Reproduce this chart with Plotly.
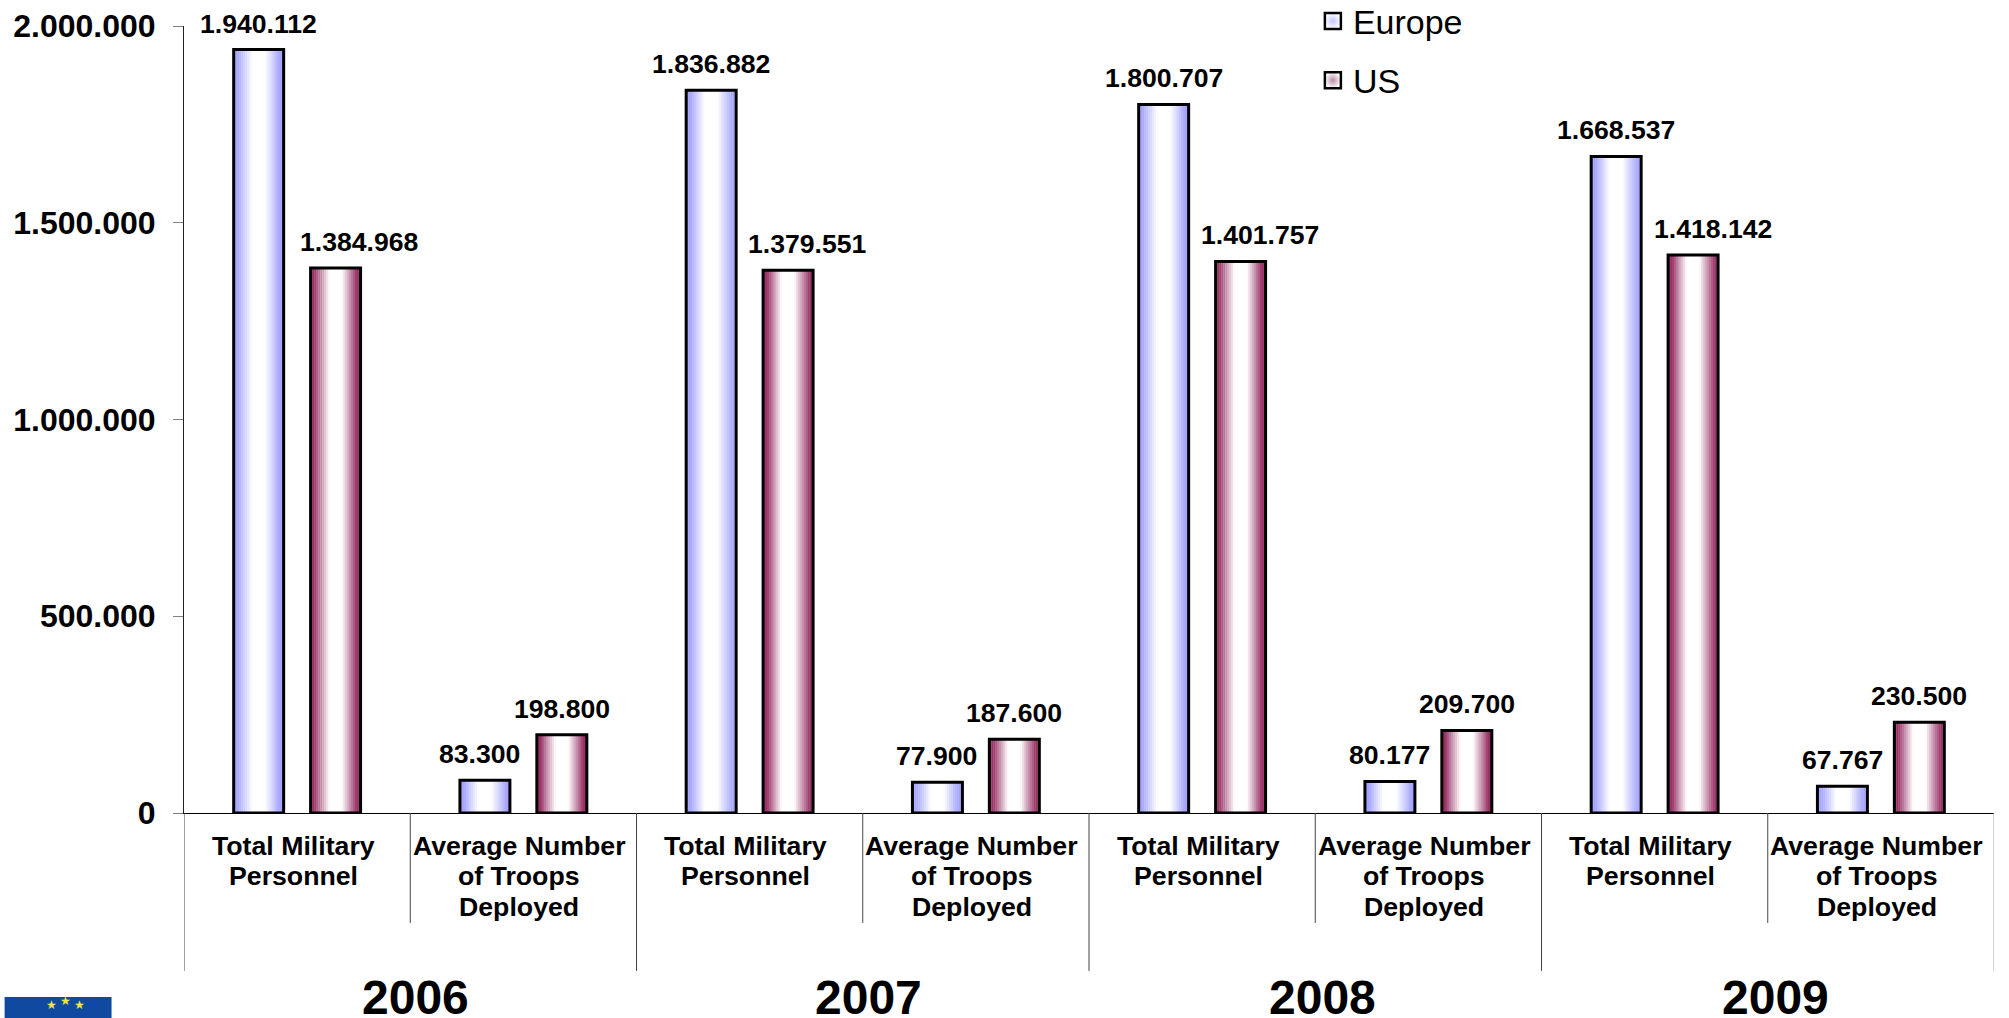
import plotly.graph_objects as go

years = ["2006", "2007", "2008", "2009"]
categories = [["Total Military", "Personnel"], ["Average Number", "of Troops", "Deployed"]]
europe = [1940112, 83300, 1836882, 77900, 1800707, 80177, 1668537, 67767]
us = [1384968, 198800, 1379551, 187600, 1401757, 209700, 1418142, 230500]
y_ticks = [0, 500000, 1000000, 1500000, 2000000]

W, H = 2009, 1018
L, R, T, B = 183.5, 1994.5, 25.6, 813
PW, PH = R - L, B - T
FONT = "Liberation Sans"


def px(x):
    return (x - L) / PW


def py(y):
    return (B - y) / PH


def mix(c, t):
    return "rgb(%d,%d,%d)" % tuple(round(255 + (v - 255) * t) for v in c)


def edge_amount(u):
    d = abs(u - 0.5) * 2
    return 0.0 if d < 0.25 else min(1.0, (d - 0.25) / 0.6)


centers = [i + 0.5 for i in range(8)]
BAR_W = 50 / PW * 8
BAR_OFF = 0.17
STRIPS = 26
fig = go.Figure()

for vals, side, edge in ((europe, -1, (165, 165, 255)), (us, 1, (153, 51, 102))):
    left = side * BAR_OFF - BAR_W / 2
    sw = BAR_W / STRIPS
    for s in range(STRIPS):
        fig.add_bar(x=centers, y=vals, width=sw * 1.15, offset=left + s * sw,
                    marker=dict(color=mix(edge, edge_amount((s + 0.5) / STRIPS)), line_width=0),
                    showlegend=False, hoverinfo="skip")
    fig.add_bar(x=centers, y=vals, width=BAR_W, offset=left, cliponaxis=False,
                marker=dict(color="rgba(0,0,0,0)", line=dict(color="black", width=3)),
                showlegend=False, hoverinfo="skip")

for name, edge in (("Europe", "#c4c4ff"), ("US", "#b98ca3")):
    fig.add_scatter(x=[None], y=[None], mode="markers", name=name, legendgroup=name,
                    marker=dict(symbol="square", size=17, color="white",
                                gradient=dict(type="radial", color=edge),
                                line=dict(color="black", width=2.5)))

annotations = []
label_dx = [0, 23, -5, 0, 0, 19, -1, 0, 0, 19, 0, 0, 0, 20, 0, 0]
year_dx = [5, 6, 7, 8]
for i, c in enumerate(centers):
    for j, (vals, side) in enumerate(((europe, -1), (us, 1))):
        annotations.append(dict(x=c + side * BAR_OFF, y=vals[i], yanchor="bottom", xanchor="center",
                                yshift=9, xshift=label_dx[i * 2 + j], showarrow=False,
                                text=f"{vals[i]:,}".replace(",", "."),
                                font=dict(family=FONT, size=26.6, color="black", weight="bold")))
    for k, line in enumerate(categories[i % 2]):
        annotations.append(dict(x=c, xshift=-4, xref="x", yref="paper", y=py(846 + k * 30.4),
                                yanchor="middle", showarrow=False, text=line,
                                font=dict(family=FONT, size=26.7, color="black", weight="bold")))
for i, yr in enumerate(years):
    annotations.append(dict(x=2 * i + 1, xshift=year_dx[i], xref="x", yref="paper", y=py(998), yanchor="middle",
                            showarrow=False, text=yr,
                            font=dict(family=FONT, size=48, color="black", weight="bold")))

shapes = []
for b in range(9):
    long_div = b % 2 == 0
    shapes.append(dict(type="line", xref="x", yref="paper", x0=b, x1=b, y0=0,
                       y1=py(971 if long_div else 923),
                       line=dict(color="#aaaaaa" if b == 8 else "#444444", width=1)))

# EU flag, bottom left
shapes.append(dict(type="rect", xref="paper", yref="paper", x0=px(4), x1=px(111), y0=py(997), y1=py(1030),
                   fillcolor="#0f4aa0", line_width=0))
for sx, sy in ((43, 1014), (57, 1010), (71, 1014)):
    annotations.append(dict(xref="paper", yref="paper", x=px(sx), y=py(sy), showarrow=False, text="★",
                            font=dict(family="DejaVu Sans", size=12, color="#f5e642")))

fig.update_layout(
    width=W, height=H, barmode="overlay", separators=",.",
    margin=dict(l=L, r=W - R, t=T, b=H - B, autoexpand=False),
    plot_bgcolor="white", paper_bgcolor="white",
    font=dict(family=FONT, color="black"),
    annotations=annotations, shapes=shapes,
    legend=dict(x=px(1313), y=py(-8), xanchor="left", yanchor="top", tracegroupgap=12,
                font=dict(family=FONT, size=34, color="black"), bgcolor="rgba(0,0,0,0)", itemwidth=30),
    xaxis=dict(range=[0, 8], showgrid=False, zeroline=False, showticklabels=False, ticks="",
               showline=True, linecolor="black", linewidth=1),
    yaxis=dict(range=[0, 2000000], tickvals=y_ticks, tickformat=",d", showgrid=False, zeroline=False,
               showline=True, linecolor="#222222", linewidth=1, ticks="outside", ticklen=10,
               tickcolor="#808080", tickwidth=1, ticklabelstandoff=11,
               tickfont=dict(family=FONT, size=32, color="black", weight="bold")),
)

fig.write_html("out.html", config=dict(displayModeBar=False),
               post_script="document.body.style.margin='0';document.body.style.overflow='hidden';")
